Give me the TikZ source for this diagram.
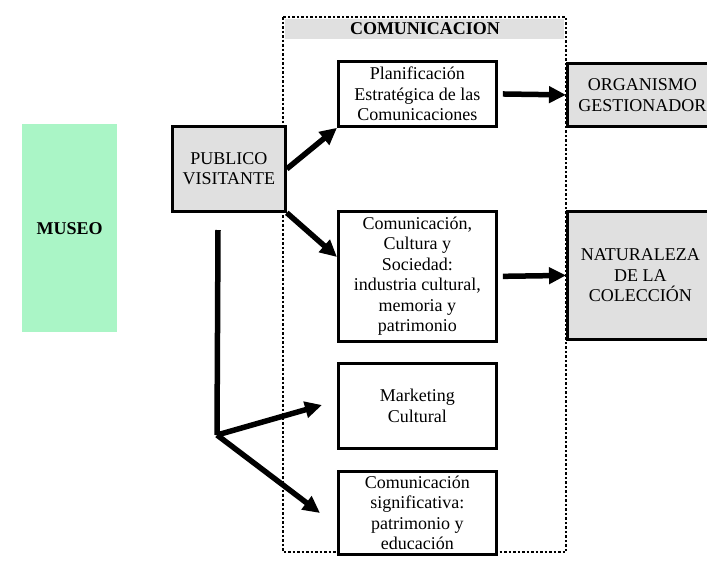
\documentclass[tikz,border=0pt]{standalone}
\usepackage{fontspec}
\setmainfont{Liberation Serif}
\usetikzlibrary{arrows.meta}
\definecolor{boxgray}{RGB}{224,224,224}
\definecolor{museogreen}{RGB}{170,245,198}
\tikzset{x=1pt, y=-1pt,
  box/.style={draw, line width=2.8pt, fill=white, align=center, inner sep=0pt,
    anchor=north west, font=\fontsize{18}{20.5}\selectfont},
  graybox/.style={box, fill=boxgray},
  flecha/.style={line width=5.5pt, -{Triangle[length=17pt,width=16pt]}}}

\begin{document}
\begin{tikzpicture}
  \useasboundingbox[fill=white] (0,0) rectangle (707,563);
  \clip (0,0) rectangle (707,563);
  % marco de comunicacion
  \draw[dotted, line width=2.5pt] (283,17) rectangle (566,552);
  \fill[boxgray] (285,19) rectangle (564,39);
  \node[font=\fontsize{18}{20}\selectfont\bfseries] (com) at (425,29) {COMUNICACION};
  % museo y publico
  \node[fill=museogreen, minimum width=95pt, minimum height=208pt, anchor=north west,
        font=\fontsize{18}{20}\selectfont\bfseries] (museo) at (22,124) {MUSEO};
  \node[graybox, minimum width=113pt, minimum height=85pt] (pub) at (171,125) {PUBLICO\\VISITANTE};
  % cajas
  \node[box, minimum width=158pt, minimum height=65pt] (plan) at (337,60)
       {Planificación\\Estratégica de las\\Comunicaciones};
  \node[box, minimum width=158pt, minimum height=130pt] (ccs) at (337,210)
       {Comunicación,\\Cultura y\\Sociedad:\\industria cultural,\\memoria y\\patrimonio};
  \node[box, minimum width=158pt, minimum height=85pt] (mkt) at (337,362) {Marketing\\Cultural};
  \node[box, minimum width=158pt, minimum height=83pt] (sig) at (337,470)
       {Comunicación\\significativa:\\patrimonio y\\educación};
  \node[graybox, minimum width=150pt, minimum height=63pt] (org) at (566,62) {ORGANISMO\\GESTIONADOR};
  \node[graybox, minimum width=146pt, minimum height=128pt] (nat) at (566,210)
       {NATURALEZA\\DE LA\\COLECCIÓN};
  % flechas
  \coordinate (v1) at (218,230);
  \coordinate (v2) at (217,435);
  \coordinate (m1) at (322,405);
  \coordinate (m2) at (320,513);
  \draw[flecha] (pub.east) -- (plan.south west);
  \draw[flecha] (pub.south east) -- ([yshift=-47pt]ccs.north west);
  \draw[flecha, shorten <=5pt] (plan.east) -- (org.west);
  \draw[flecha, shorten <=5pt] (ccs.east) -- (nat.west);
  \draw[line width=5.5pt] (v1) -- (v2);
  \draw[flecha] (v2) -- (m1);
  \draw[flecha] (v2) -- (m2);
\end{tikzpicture}
\end{document}
